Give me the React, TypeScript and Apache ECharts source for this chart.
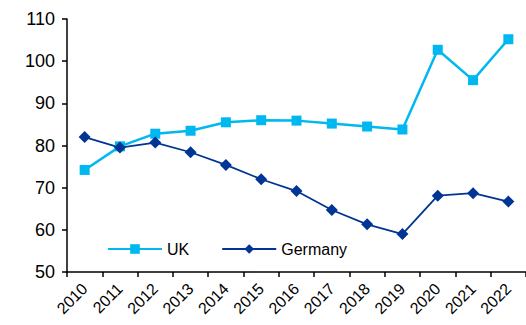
import React, { useEffect, useRef } from "react";
import * as echarts from "echarts";

const years = ["2010","2011","2012","2013","2014","2015","2016","2017","2018","2019","2020","2021","2022"];
const ukValues = [74.2, 79.8, 82.8, 83.5, 85.5, 86.0, 85.9, 85.2, 84.5, 83.8, 102.7, 95.5, 105.2];
const germanyValues = [82.0, 79.5, 80.7, 78.4, 75.4, 72.0, 69.2, 64.7, 61.3, 59.0, 68.1, 68.7, 66.7];

export default function App() {
  const ref = useRef<HTMLDivElement>(null);
  useEffect(() => {
    const chart = echarts.init(ref.current!, null, { renderer: "svg" });
    const font = "'Liberation Sans', Arial, sans-serif";
    chart.setOption({
      animation: false,
      grid: { left: 67, top: 19, bottom: 53, right: -14, containLabel: false },
      legend: {
        left: 102,
        top: 236,
        itemWidth: 54,
        itemHeight: 12,
        itemGap: 32,
        textStyle: { fontFamily: font, fontSize: 16, color: "#000" },
        data: ["UK", "Germany"],
      },
      xAxis: {
        type: "category",
        data: years,
        boundaryGap: true,
        axisLine: { lineStyle: { color: "#000", width: 1.5 } },
        axisTick: { show: true, length: 5, lineStyle: { color: "#000", width: 1.5 } },
        axisLabel: { rotate: 45, fontFamily: font, fontSize: 16, color: "#000", margin: 14, interval: 0 },
        splitLine: { show: false },
      },
      yAxis: {
        type: "value",
        min: 50,
        max: 110,
        interval: 10,
        axisLine: { show: true, lineStyle: { color: "#000", width: 1.5 } },
        axisTick: { show: true, length: 5, lineStyle: { color: "#000", width: 1.5 } },
        axisLabel: { fontFamily: font, fontSize: 18, color: "#000", margin: 12 },
        splitLine: { show: false },
      },
      series: [
        {
          name: "UK",
          type: "line",
          data: ukValues,
          symbol: "rect",
          symbolSize: 10,
          lineStyle: { color: "#00B8F0", width: 2.5 },
          itemStyle: { color: "#00B8F0" },
          clip: false,
        },
        {
          name: "Germany",
          type: "line",
          data: germanyValues,
          symbol: "diamond",
          symbolSize: 12,
          lineStyle: { color: "#003595", width: 1.8 },
          itemStyle: { color: "#003595" },
          clip: false,
        },
      ],
    });
    return () => chart.dispose();
  }, []);
  return (
    <div
      ref={ref}
      style={{ position: "absolute", left: 0, top: 0, width: 526, height: 325, background: "#fff" }}
    />
  );
}
